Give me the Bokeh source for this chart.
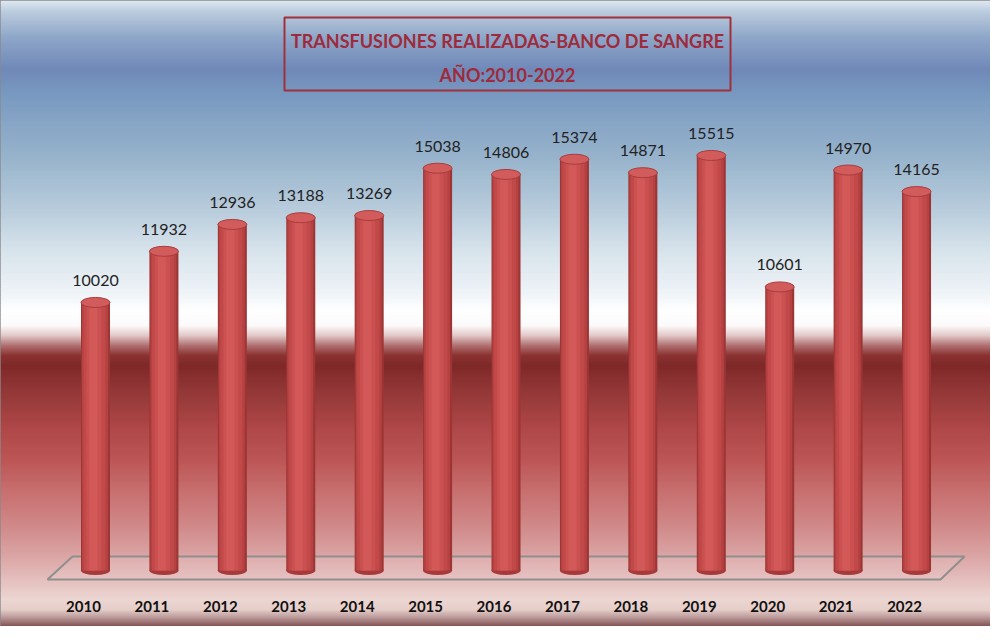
from bokeh.plotting import figure
from bokeh.models import Range1d
from bokeh.core.properties import value
from bokeh.embed import file_html
from bokeh.resources import INLINE

# ---- data ----
years = ["2010", "2011", "2012", "2013", "2014", "2015", "2016",
         "2017", "2018", "2019", "2020", "2021", "2022"]
transfusions = [10020, 11932, 12936, 13188, 13269, 15038, 14806,
                15374, 14871, 15515, 10601, 14970, 14165]
title_lines = ["TRANSFUSIONES REALIZADAS-BANCO DE SANGRE", "AÑO:2010-2022"]

W, H = 990, 626
X0, STEP = 95.0, 68.42          # pixel position of first bar, spacing
ZERO_PX, PX_PER_UNIT = 570.0, 0.02675

idx = list(range(len(years)))

p = figure(width=W, height=H, output_backend="svg", toolbar_location=None,
           x_range=Range1d(-X0 / STEP, (W - X0) / STEP),
           y_range=Range1d(-(H - ZERO_PX) / PX_PER_UNIT, ZERO_PX / PX_PER_UNIT),
           min_border=0)
p.extra_x_ranges = {"px": Range1d(0, W)}
p.extra_y_ranges = {"py": Range1d(H, 0)}
p.xaxis.visible = False
p.yaxis.visible = False
p.xgrid.visible = False
p.ygrid.visible = False
p.outline_line_color = "#8a8a8a"
p.outline_line_width = 2
p.border_fill_color = "white"

# ---- background gradient (style only) ----
stops = [
    (8, "#dfe8f1"), (20, "#b9cadd"), (45, "#8ea6c8"), (77, "#7088b8"),
    (100, "#7898c0"), (167, "#98b4cc"), (217, "#b8ccdc"), (260, "#d8e4ec"),
    (300, "#eef3f7"), (318, "#ffffff"), (333, "#fcfafa"), (343, "#e2c8c8"),
    (353, "#b07070"), (363, "#8a3232"), (373, "#7f2828"), (400, "#943838"),
    (433, "#ad4646"), (467, "#bc5555"), (500, "#c87070"), (533, "#d08888"),
    (567, "#dca8a8"), (590, "#e5c2c0"), (607, "#ecd6d2"), (617, "#e6cec9"),
    (624, "#c0a0a0"), (634, "#805050"), (642, "#6a3838"),
]

def hx(c):
    return tuple(int(c[i:i + 2], 16) for i in (1, 3, 5))

def color_at(y):
    for (y0, c0), (y1, c1) in zip(stops, stops[1:]):
        if y0 <= y <= y1:
            t = (y - y0) / (y1 - y0)
            a, b = hx(c0), hx(c1)
            return "#%02x%02x%02x" % tuple(round(a[k] + (b[k] - a[k]) * t) for k in range(3))
    return stops[-1][1] if y > stops[-1][0] else stops[0][1]

rows = list(range(0, H, 2))
p.quad(left=[0] * len(rows), right=[W] * len(rows),
       top=rows, bottom=[r + 2.6 for r in rows],
       fill_color=[color_at(r + 8 + 1) for r in rows], line_color=None,
       x_range_name="px", y_range_name="py")

# ---- floor ----
p.patch([72, 964, 940, 47], [556, 556, 579, 579], fill_color="#f0e0e0", fill_alpha=0.15,
        line_color="#8f8f8f", line_width=2, x_range_name="px", y_range_name="py")

# ---- cylinders ----
unit = 1.0 / STEP
p.ellipse(x=idx, y=[0] * len(idx), width=29, height=9, width_units="screen",
          height_units="screen", fill_color="#a63a3a", line_color=None)
strips = [(-14.5, 14.5, "#9c3535"), (-13.5, 12.5, "#b54141"), (-12, 10, "#c24949"),
          (-9, 6, "#cb5151"), (-6, 2, "#d35959")]
for l, r, c in strips:
    p.vbar(x=[i + (l + r) / 2 * unit for i in idx], width=(r - l) * unit,
           top=transfusions, bottom=0, fill_color=c, line_color=None)
p.ellipse(x=idx, y=transfusions, width=29, height=10, width_units="screen",
          height_units="screen", fill_color="#d25c5c", line_color="#a83c3c", line_width=1)

# ---- value labels ----
p.text(x=idx, y=transfusions, text=[str(v) for v in transfusions],
       text_font=value("Lato"), text_font_size="16px", text_color="#222222",
       text_align="center", text_baseline="middle", y_offset=-22)

# ---- year labels ----
p.text(x=idx, y=[606] * len(idx), text=years, y_range_name="py",
       text_font=value("Lato"), text_font_style="bold", text_font_size="15px",
       text_color="#111111", text_align="center", text_baseline="middle", x_offset=-12)

# ---- title box ----
p.quad(left=[284], right=[730], top=[17], bottom=[90], fill_alpha=0,
       line_color="#a0303a", line_width=2, x_range_name="px", y_range_name="py")
p.text(x=[507, 507], y=[40, 74], text=title_lines, x_range_name="px", y_range_name="py",
       text_font=value("Lato"), text_font_style="bold", text_font_size="18px",
       text_color="#9e2b3b", text_align="center", text_baseline="middle")

open("out.html", "w").write(file_html(p, INLINE))
